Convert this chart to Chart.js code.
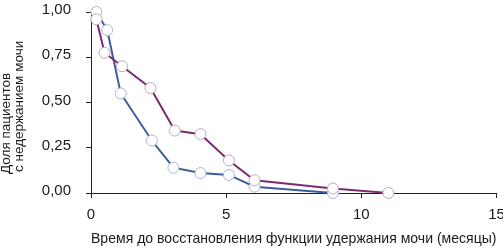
<!DOCTYPE html>
<html>
<head>
<meta charset="utf-8">
<script src="https://cdn.jsdelivr.net/npm/chart.js@4"></script>
<style>
    html, body { margin: 0; padding: 0; background: #fff; }
    #wrap { width: 503px; height: 250px; }
</style>
</head>
<body>
<div id="wrap"><canvas id="graficoContinencia"></canvas></div>
<script>
// dados
const mesesAzul = [0.2, 0.6, 1.1, 2.25, 3.05, 4.05, 5.1, 6.05, 8.95]
const fracaoAzul = [1.0, 0.9, 0.55, 0.29, 0.14, 0.11, 0.1, 0.035, 0]
const mesesRoxo = [0.2, 0.5, 1.15, 2.2, 3.1, 4.05, 5.1, 6.05, 8.95, 11.0]
const fracaoRoxo = [0.96, 0.775, 0.7, 0.58, 0.345, 0.325, 0.18, 0.07, 0.025, 0]
const ticksX = [0, 5, 10, 15]
const ticksY = [0, 0.25, 0.5, 0.75, 1]
const tituloX = 'Время до восстановления функции удержания мочи (месяцы)'
const tituloY = ['Доля пациентов', 'с недержанием мочи']

const fonte = "'Liberation Sans Narrow', 'Liberation Sans', Arial, sans-serif"
const corTexto = '#1a1a1a'

function pontos(xs, ys) {
    return xs.map((x, i) => ({ x: x, y: ys[i] }))
}

// título do eixo y em duas linhas, alinhadas pelo início
const tituloEixoY = {
    id: 'tituloEixoY',
    afterDraw(chart) {
        const ctx = chart.ctx
        ctx.save()
        ctx.rotate(-Math.PI / 2)
        ctx.font = `13.5px ${fonte}`
        ctx.fillStyle = corTexto
        ctx.textAlign = 'left'
        ctx.textBaseline = 'alphabetic'
        ctx.fillText(tituloY[0], -174, 10)
        ctx.fillText(tituloY[1], -172, 22.5)
        ctx.restore()
    }
}

new Chart(document.getElementById('graficoContinencia'), {
    type: 'scatter',
    data: {
        datasets: [
            {
                label: 'roxo',
                data: pontos(mesesRoxo, fracaoRoxo),
                showLine: true,
                borderColor: '#7b2d6e',
                borderWidth: 2,
                pointRadius: 5.5,
                pointBackgroundColor: '#ffffff',
                pointBorderColor: '#c7a3c1',
                pointBorderWidth: 1,
                tension: 0,
                clip: false
            },
            {
                label: 'azul',
                data: pontos(mesesAzul, fracaoAzul),
                showLine: true,
                borderColor: '#3e5c9c',
                borderWidth: 2,
                pointRadius: 5.5,
                pointBackgroundColor: '#ffffff',
                pointBorderColor: '#a9b5d3',
                pointBorderWidth: 1,
                tension: 0,
                clip: false
            }
        ]
    },
    options: {
        responsive: true,
        maintainAspectRatio: false,
        animation: false,
        layout: {
            padding: { left: 0, right: 6, top: 12, bottom: 0 }
        },
        plugins: {
            legend: { display: false },
            tooltip: { enabled: false }
        },
        scales: {
            x: {
                type: 'linear',
                min: 0,
                max: 15,
                afterBuildTicks: scale => { scale.ticks = ticksX.map(v => ({ value: v })) },
                afterFit: scale => { scale.height = 57; scale.paddingLeft = 0; scale.paddingRight = 0 },
                ticks: {
                    padding: 8,
                    color: corTexto,
                    font: { family: fonte, size: 15 },
                    maxRotation: 0
                },
                grid: {
                    drawOnChartArea: false,
                    drawTicks: true,
                    tickLength: 5,
                    color: '#222'
                },
                border: { color: '#222', width: 1 },
                title: {
                    display: true,
                    text: tituloX,
                    color: corTexto,
                    font: { family: fonte, size: 15 },
                    padding: { top: 0, bottom: 2 }
                }
            },
            y: {
                type: 'linear',
                min: 0,
                max: 1,
                afterBuildTicks: scale => { scale.ticks = ticksY.map(v => ({ value: v })) },
                afterFit: scale => { scale.width = 91; scale.paddingTop = 0; scale.paddingBottom = 0 },
                ticks: {
                    padding: 15,
                    color: corTexto,
                    font: { family: fonte, size: 15 },
                    labelOffset: -2,
                    callback: function (value) {
                        return value.toFixed(2).replace('.', ',')
                    }
                },
                grid: {
                    drawOnChartArea: false,
                    drawTicks: true,
                    tickLength: 5,
                    color: '#222'
                },
                border: { color: '#222', width: 1 },
                title: { display: false }
            }
        }
    },
    plugins: [tituloEixoY]
})
</script>
</body>
</html>
